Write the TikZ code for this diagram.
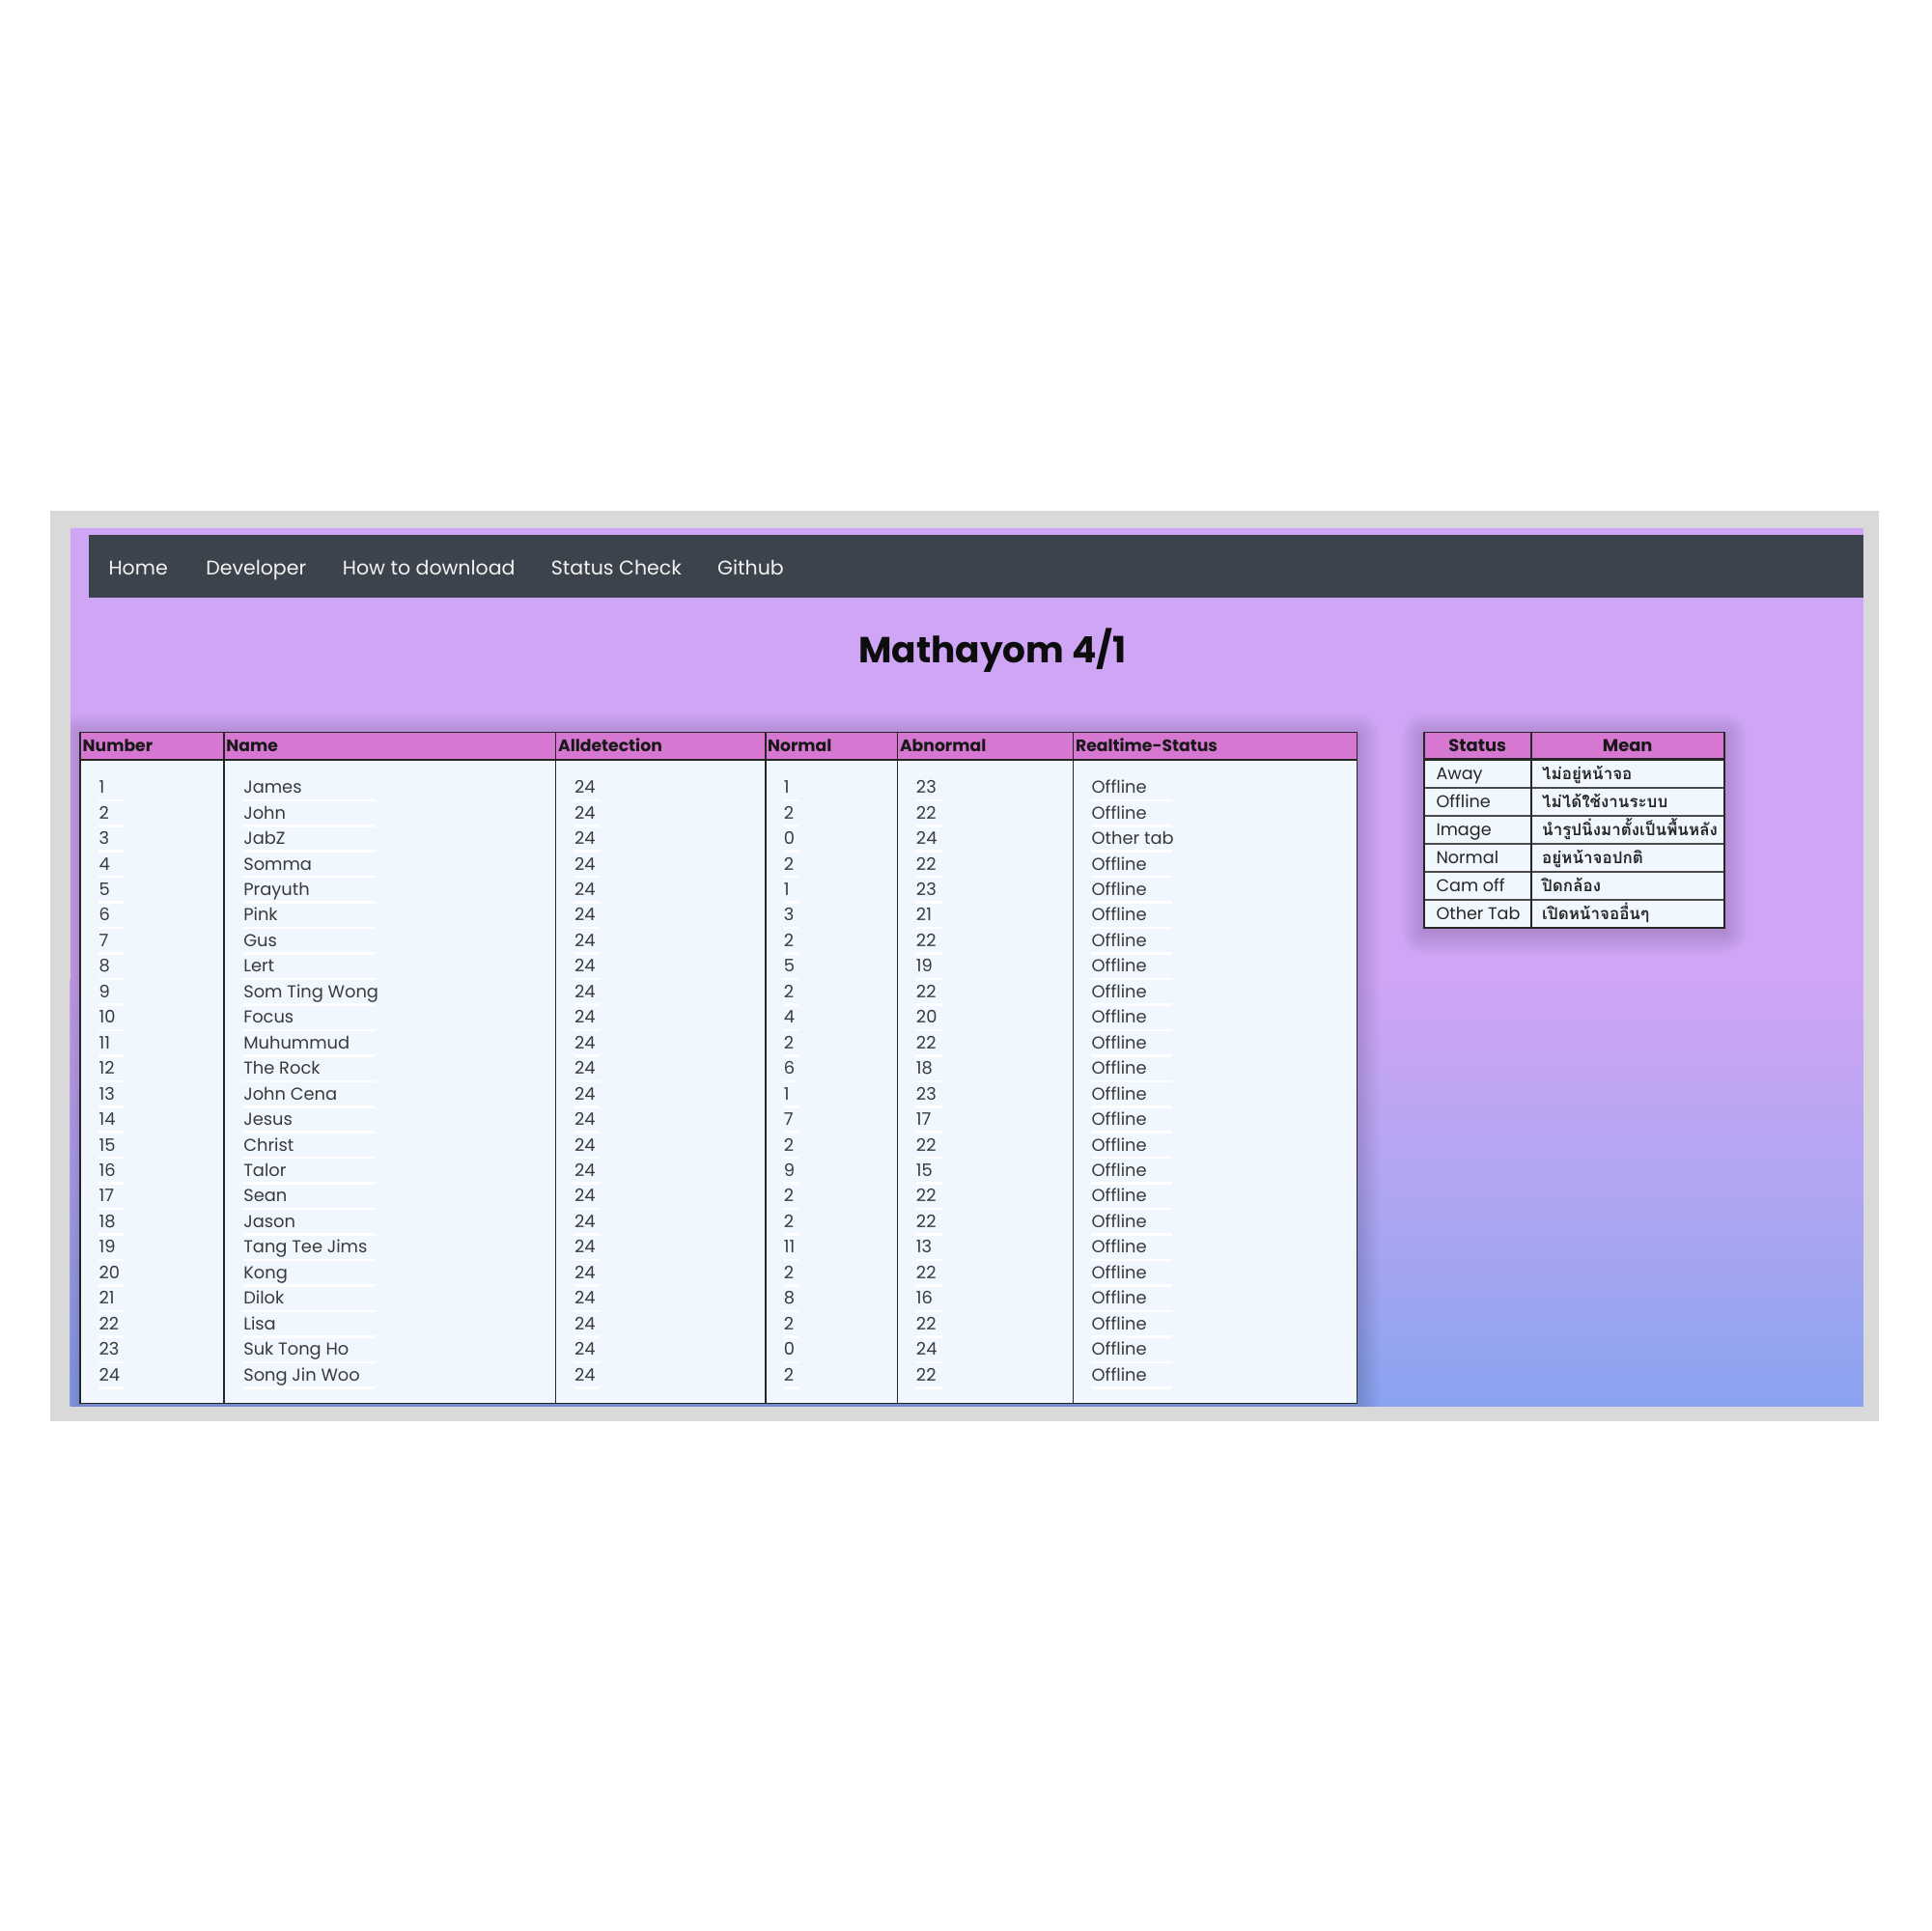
\documentclass[tikz,border=0pt]{standalone}
\usepackage{fontspec}
\setmainfont{Poppins}
\newfontfamily\thaifont[Script=Thai]{Loma}
\definecolor{framegray}{HTML}{D9D9D9}
\definecolor{navbg}{HTML}{3D434C}
\definecolor{hdr}{HTML}{D677D2}
\definecolor{cellbg}{HTML}{F0F7FE}
\definecolor{txt}{HTML}{3A3A3A}
\definecolor{topp}{HTML}{CFA5F5}
\definecolor{midp}{HTML}{ADA5F2}
\definecolor{botb}{HTML}{8AA3F0}
\definecolor{sepgray}{HTML}{4A4A4A}
\tikzset{
  navtxt/.style={anchor=base west, inner sep=0pt, text=white!95!black, font=\fontsize{16.1}{20}\selectfont},
  hdrtxt/.style={anchor=base west, inner sep=0pt, text=black!90, font=\bfseries\fontsize{13.5}{16}\selectfont},
  lhdrtxt/.style={anchor=base, inner sep=0pt, text=black!90, font=\bfseries\fontsize{14}{17}\selectfont},
  celltxt/.style={anchor=base west, inner sep=0pt, text=txt, font=\fontsize{14}{17}\selectfont},
  legtxt/.style={anchor=base west, inner sep=0pt, text=black!85, font=\fontsize{13.8}{17}\selectfont},
  thaitxt/.style={anchor=base west, inner sep=0pt, text=black!85, font=\thaifont\bfseries\fontsize{13.3}{17}\selectfont},
  tline/.style={draw=black!85, line width=1.3pt},
  uline/.style={draw=white, line width=2pt},
}
\newcommand{\softshadow}[4]{%
  \foreach \k in {1,...,9}{%
    \fill[black, opacity=0.014, rounded corners=2*\k pt] ({#1-2*\k},{#2-2*\k+3}) rectangle ({#3+2*\k},{#4+2*\k+3});
  }%
}
\begin{document}
\begin{tikzpicture}[x=1pt,y=-1pt]
\useasboundingbox[fill=white] (0,0) rectangle (1568,1568);
% frame and page background
\fill[framegray] (41,415) rectangle (1526,1154);
\fill[topp] (57,429) rectangle (1513,796);
\shade[top color=topp,bottom color=midp] (57,795) rectangle (1513,982);
\shade[top color=midp,bottom color=botb] (57,981) rectangle (1513,1142);
% navbar
\fill[navbg] (72,434) rectangle (1513,485);
\node[navtxt] (home) at (88,466.5) {Home};
\node[navtxt] (dev) at (167,466.5) {Developer};
\node[navtxt] (howto) at (278,466.5) {How to download};
\node[navtxt] (status) at (447.4,466.5) {Status Check};
\node[navtxt] (github) at (582.4,466.5) {Github};
% title
\node[anchor=base, inner sep=0pt, text=black!95, font=\bfseries\fontsize{29.4}{34}\selectfont] (title) at (806,538) {Mathayom 4/1};
% shadows
\begin{scope}
\clip (57,429) rectangle (1513,1142);
\softshadow{65}{594.6}{1102}{1139.4}
\softshadow{1156.2}{594.6}{1400}{753.2}
\end{scope}
% main table
\fill[cellbg] (65,617) rectangle (1102,1139.4);
\fill[hdr] (65,594.6) rectangle (1102,617);
\foreach \cx in {181.8,451.3,621.6,728.7,871.5}{\draw[tline] (\cx,594.6) -- (\cx,1139.4);}
\draw[tline, line width=2pt] (65,617) -- (1102,617);
\draw[tline] (65,594.6) rectangle (1102,1139.4);
\node[hdrtxt] (hnum) at (67,610.2) {Number};
\node[hdrtxt] (hname) at (183.6,610.2) {Name};
\node[hdrtxt] (hall) at (453,610.2) {Alldetection};
\node[hdrtxt] (hnorm) at (623.2,610.2) {Normal};
\node[hdrtxt] (habn) at (730.5,610.2) {Abnormal};
\node[hdrtxt] (hrt) at (873.2,610.2) {Realtime-Status};
\foreach \i/\nm/\al/\no/\ab/\st in {
 1/James/24/1/23/Offline,
 2/John/24/2/22/Offline,
 3/JabZ/24/0/24/Other tab,
 4/Somma/24/2/22/Offline,
 5/Prayuth/24/1/23/Offline,
 6/Pink/24/3/21/Offline,
 7/Gus/24/2/22/Offline,
 8/Lert/24/5/19/Offline,
 9/Som Ting Wong/24/2/22/Offline,
 10/Focus/24/4/20/Offline,
 11/Muhummud/24/2/22/Offline,
 12/The Rock/24/6/18/Offline,
 13/John Cena/24/1/23/Offline,
 14/Jesus/24/7/17/Offline,
 15/Christ/24/2/22/Offline,
 16/Talor/24/9/15/Offline,
 17/Sean/24/2/22/Offline,
 18/Jason/24/2/22/Offline,
 19/Tang Tee Jims/24/11/13/Offline,
 20/Kong/24/2/22/Offline,
 21/Dilok/24/8/16/Offline,
 22/Lisa/24/2/22/Offline,
 23/Suk Tong Ho/24/0/24/Offline,
 24/Song Jin Woo/24/2/22/Offline}{
  \pgfmathsetmacro{\yb}{644.2+(\i-1)*20.74}
  \pgfmathsetmacro{\yu}{\yb+5.6}
  \draw[uline] (80.3,\yu) -- (101,\yu);
  \draw[uline] (197.6,\yu) -- (305,\yu);
  \draw[uline] (466.3,\yu) -- (487,\yu);
  \draw[uline] (636.3,\yu) -- (648,\yu);
  \draw[uline] (743.8,\yu) -- (765,\yu);
  \draw[uline] (886.2,\yu) -- (952,\yu);
  \node[celltxt] (num\i) at (80.3,\yb) {\i};
  \node[celltxt] (name\i) at (197.6,\yb) {\nm};
  \node[celltxt] (all\i) at (466.3,\yb) {\al};
  \node[celltxt] (norm\i) at (636.3,\yb) {\no};
  \node[celltxt] (abn\i) at (743.8,\yb) {\ab};
  \node[celltxt] (st\i) at (886.2,\yb) {\st};
}
% legend table
\fill[cellbg] (1156.2,616.8) rectangle (1400,753.2);
\fill[hdr] (1156.2,594.6) rectangle (1400,616.8);
\foreach \r in {1,...,5}{
  \pgfmathsetmacro{\yr}{616.8+\r*22.73}
  \draw[draw=sepgray, line width=1.8pt] (1156.2,\yr) -- (1400,\yr);
}
\draw[tline] (1243.2,594.6) -- (1243.2,753.2);
\draw[tline, line width=2pt] (1156.2,616.8) -- (1400,616.8);
\draw[tline] (1156.2,594.6) rectangle (1400,753.2);
\node[lhdrtxt] (lhs) at (1199.7,610) {Status};
\node[lhdrtxt] (lhm) at (1321.6,610) {Mean};
\foreach \r/\en/\th in {
 1/Away/ไม่อยู่หน้าจอ,
 2/Offline/ไม่ได้ใช้งานระบบ,
 3/Image/นำรูปนิ่งมาตั้งเป็นพื้นหลัง,
 4/Normal/อยู่หน้าจอปกติ,
 5/Cam off/ปิดกล้อง,
 6/Other Tab/เปิดหน้าจออื่นๆ}{
  \pgfmathsetmacro{\yb}{616.8+(\r-0.5)*22.73+5.1}
  \node[legtxt] (len\r) at (1166,\yb) {\en};
  \node[thaitxt] (lth\r) at (1252,\yb) {\th};
}
\end{tikzpicture}
\end{document}
